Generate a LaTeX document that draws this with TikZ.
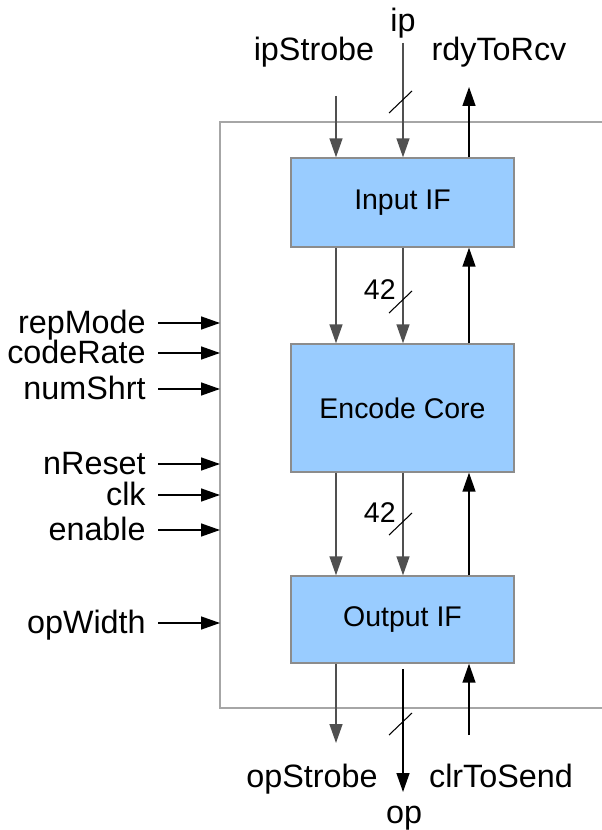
\documentclass[tikz,border=0pt]{standalone}
\usepackage{fontspec}
\setmainfont{Liberation Sans}
\usetikzlibrary{arrows.meta,positioning,calc}

\definecolor{boxblue}{HTML}{99CCFF}
\definecolor{boxedge}{HTML}{8C8C8C}
\definecolor{framegray}{HTML}{A6A6A6}
\definecolor{downgray}{HTML}{505050}

\tikzset{
  block/.style={draw=boxedge, fill=boxblue, line width=0.8pt, inner sep=0pt,
    minimum width=4.46cm, font=\fontsize{16.2}{19}\selectfont},
  lbl/.style={inner sep=0pt, font=\fontsize{18.4}{22}\selectfont},
  buslbl/.style={inner sep=0pt, font=\fontsize{16.2}{19}\selectfont},
  sig/.style={line width=0.8pt, -{Triangle[length=0.38cm,width=0.26cm]}},
  sigdown/.style={sig, draw=downgray},
  frame/.style={draw=framegray, line width=0.7pt},
  slash/.style={line width=0.6pt}
}
\newcommand{\busmark}[1]{\draw[slash] #1 ++(-14,11) -- ++(23,-22);}

\begin{document}
\begin{tikzpicture}[x=0.02cm, y=-0.02cm]
	\useasboundingbox (0,0) rectangle (601,830);

	% enclosing frame, open to the right
	\draw[frame] (610,122) -| (220,708) -- (610,708);

	% blocks
	\node[block, minimum height=1.78cm] (inIF) at (402.5,202.5) {Input IF};
	\node[block, minimum height=2.56cm] (core) at (402.5,408) {Encode Core};
	\node[block, minimum height=1.74cm] (outIF) at (402.5,619.5) {Output IF};

	% columns
	\coordinate (colL) at (336,0);
	\coordinate (colM) at (403,0);
	\coordinate (colR) at (469,0);

	% top ports
	\coordinate (ipStrobeSrc) at (336,96);
	\coordinate (ipSrc) at (403,43);
	\coordinate (rdyDst) at (469,87);
	\node[lbl, anchor=base] (ipStrobeLbl) at (314,61) {ipStrobe};
	\node[lbl, anchor=base] (ipLbl) at (403,32) {ip};
	\node[lbl, anchor=base] (rdyLbl) at (499,61) {rdyToRcv};
	\draw[sigdown] (ipStrobeSrc) -- (ipStrobeSrc |- inIF.north);
	\draw[sigdown] (ipSrc) -- (ipSrc |- inIF.north);
	\draw[sig] (rdyDst |- inIF.north) -- (rdyDst);
	\busmark{(403,102)}

	% input IF <-> encode core
	\draw[sigdown] (inIF.south -| colL) -- (core.north -| colL);
	\draw[sigdown] (inIF.south -| colM) -- (core.north -| colM);
	\draw[sig] (core.north -| colR) -- (inIF.south -| colR);
	\busmark{(403,302)}
	\node[buslbl, anchor=base east] (busA) at (396,300) {42};

	% encode core <-> output IF
	\draw[sigdown] (core.south -| colL) -- (outIF.north -| colL);
	\draw[sigdown] (core.south -| colM) -- (outIF.north -| colM);
	\draw[sig] (outIF.north -| colR) -- (core.south -| colR);
	\busmark{(403,524)}
	\node[buslbl, anchor=base east] (busB) at (396,522) {42};

	% bottom ports
	\coordinate (opStrobeDst) at (336,743);
	\coordinate (opTop) at (403,669);
	\coordinate (opDst) at (403,792);
	\coordinate (clrSrc) at (469,735);
	\draw[sigdown] (outIF.south -| colL) -- (opStrobeDst);
	\draw[sig] (opTop) -- (opDst);
	\draw[sig] (clrSrc) -- (clrSrc |- outIF.south);
	\busmark{(403,724)}
	\node[lbl, anchor=base] (opStrobeLbl) at (312,787) {opStrobe};
	\node[lbl, anchor=base] (opLbl) at (404,823) {op};
	\node[lbl, anchor=base] (clrLbl) at (501,787) {clrToSend};

	% side inputs
	\foreach \name/\y in {repMode/323, codeRate/353, numShrt/389, nReset/464,
	                      clk/495, enable/530, opWidth/623}
	{
		\coordinate (\name Src) at (158,\y);
		\coordinate (\name Dst) at (220,\y);
		\node[lbl, text height=0.56cm, text depth=0.15cm, left=0.24cm of \name Src] (\name) {\name};
		\draw[sig] (\name Src) -- (\name Dst);
	}
\end{tikzpicture}
\end{document}
